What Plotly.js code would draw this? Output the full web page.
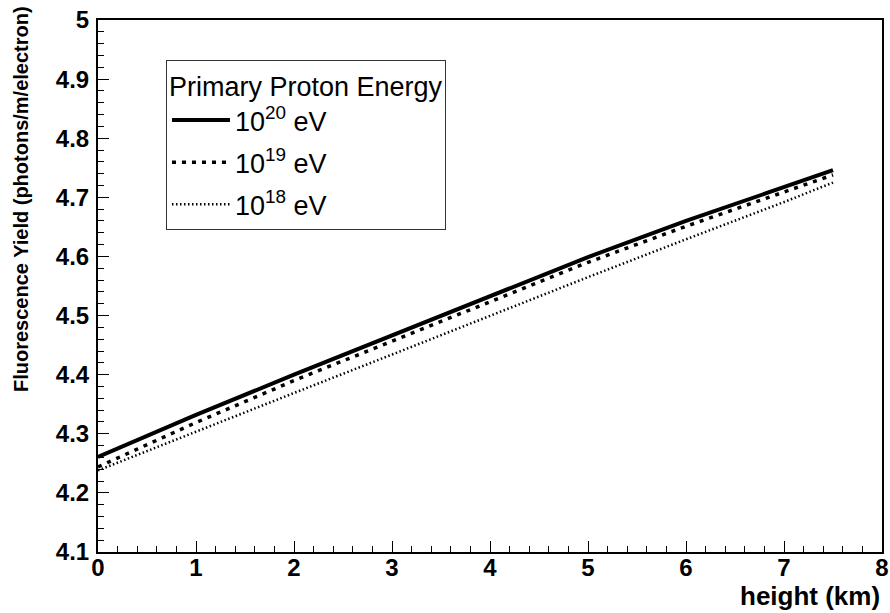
<!DOCTYPE html>
<html>
<head>
<meta charset="utf-8">
<script src="https://cdn.plot.ly/plotly-3.0.1.min.js"></script>
<style>html,body{margin:0;padding:0;background:#fff;}#chart{width:890px;height:613px;}</style>
</head>
<body>
<div id="chart"></div>
<script>
const heightKm = [0, 1, 2, 3, 4, 5, 6, 7, 7.5];
const yield20 = [4.261, 4.332, 4.400, 4.466, 4.533, 4.599, 4.660, 4.718, 4.746];
const yield19 = [4.244, 4.319, 4.390, 4.457, 4.524, 4.590, 4.651, 4.709, 4.738];
const yield18 = [4.238, 4.304, 4.369, 4.434, 4.500, 4.565, 4.629, 4.692, 4.725];
const seriesNames = ['10<sup>20</sup> eV', '10<sup>19</sup> eV', '10<sup>18</sup> eV'];
const legendTitle = 'Primary Proton Energy';
const xTitle = 'height (km)';
const yTitle = 'Fluorescence Yield (photons/m/electron)';

const FONT = '"Liberation Sans", Arial, Helvetica, sans-serif';

const traces = [
  {x: heightKm, y: yield20, name: seriesNames[0], legendgroup: 'a', mode: 'lines',
   line: {color: '#000', width: 4, dash: 'solid'}},
  {x: heightKm, y: yield19, name: seriesNames[1], legendgroup: 'b', mode: 'lines',
   line: {color: '#000', width: 3.5, dash: '4px,6px'}},
  {x: heightKm, y: yield18, name: seriesNames[2], legendgroup: 'c', mode: 'lines',
   line: {color: '#000', width: 2.5, dash: '1.5px,2.5px'}}
];

const axisCommon = {
  showline: true, linecolor: '#000', linewidth: 2, mirror: true,
  ticks: 'inside', ticklen: 11, tickwidth: 1, tickcolor: '#000',
  showgrid: false, zeroline: false,
  tickfont: {family: FONT, size: 24, color: '#000', weight: 'bold'}
};

const layout = {
  width: 890, height: 613,
  margin: {l: 98, r: 8, t: 20, b: 61},
  paper_bgcolor: '#fff', plot_bgcolor: '#fff',
  showlegend: true,
  xaxis: Object.assign({}, axisCommon, {
    range: [0, 8], dtick: 1, tick0: 0, ticklabelstandoff: -7,
    minor: {ticks: 'inside', ticklen: 6, dtick: 0.2, tickcolor: '#000', tickwidth: 1}
  }),
  yaxis: Object.assign({}, axisCommon, {
    range: [4.1, 5], dtick: 0.1, tick0: 4.1, ticklabelstandoff: 2,
    minor: {ticks: 'inside', ticklen: 6, dtick: 0.02, tickcolor: '#000', tickwidth: 1}
  }),
  legend: {
    x: 0.0867, y: 0.925, xanchor: 'left', yanchor: 'top',
    bgcolor: '#fff', bordercolor: '#333', borderwidth: 1,
    font: {family: FONT, size: 27, color: '#000'},
    title: {text: legendTitle, font: {family: FONT, size: 27, color: '#000'}},
    traceorder: 'grouped', tracegroupgap: 4, itemwidth: 58
  },
  annotations: [
    {xref: 'paper', yref: 'paper', x: 1, y: 0, xanchor: 'right', yanchor: 'middle',
     yshift: -44, text: xTitle, showarrow: false,
     font: {family: FONT, size: 26, color: '#000', weight: 'bold'}},
    {xref: 'paper', yref: 'paper', x: 0, y: 1, xanchor: 'right', yanchor: 'top',
     xshift: -64, yshift: 16, textangle: -90, text: yTitle, showarrow: false,
     font: {family: FONT, size: 20, color: '#000', weight: 'bold'}}
  ]
};

Plotly.newPlot('chart', traces, layout, {displayModeBar: false, staticPlot: true});
</script>
</body>
</html>
